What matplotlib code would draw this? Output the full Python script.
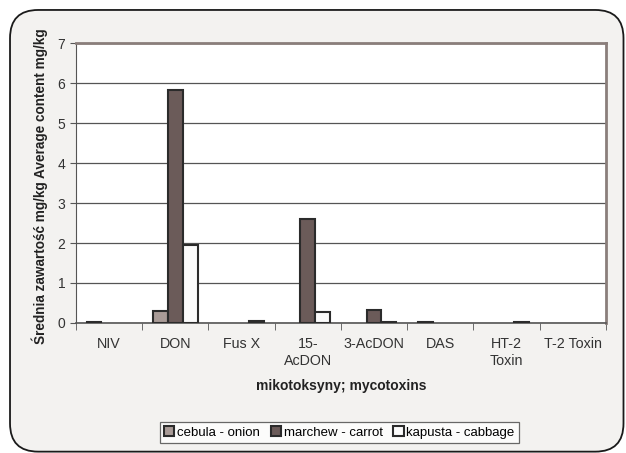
import matplotlib.pyplot as plt
import numpy as np
from matplotlib.patches import FancyBboxPatch

plt.rcParams['font.family'] = ['Liberation Sans', 'DejaVu Sans']

categories = ["NIV", "DON", "Fus X", "15-\nAcDON", "3-AcDON", "DAS", "HT-2\nToxin", "T-2 Toxin"]
onion = [0.02, 0.30, 0.0, 0.0, 0.0, 0.02, 0.0, 0.0]
carrot = [0.0, 5.83, 0.0, 2.60, 0.32, 0.0, 0.0, 0.0]
cabbage = [0.0, 1.95, 0.05, 0.27, 0.03, 0.0, 0.03, 0.0]
series_names = ["cebula - onion", "marchew - carrot", "kapusta - cabbage"]
series_colors = ["#a99b97", "#6b5b59", "#fbfbfb"]

fig = plt.figure(figsize=(6.26, 4.53), dpi=100)
fig.patch.set_facecolor("white")
bg = FancyBboxPatch((0.016, 0.003), 0.98, 0.975, boxstyle="round,pad=0,rounding_size=0.045",
                    transform=fig.transFigure, facecolor="#f3f2f0", edgecolor="#1a1a1a",
                    linewidth=1.3, mutation_aspect=626/453, zorder=-5)
fig.add_artist(bg)

ax = fig.add_axes([0.121, 0.287, 0.847, 0.618])
ax.set_facecolor("white")

x = np.arange(len(categories))
w = 0.225
for i, (vals, c, n) in enumerate(zip([onion, carrot, cabbage], series_colors, series_names)):
    v = np.array(vals, dtype=float)
    v[v == 0] = np.nan
    ax.bar(x + (i - 1) * w, v, width=w, color=c, edgecolor="#2b2b2b", linewidth=1.5, label=n, zorder=3)

ax.set_xlim(-0.5, len(categories) - 0.5)
ax.set_ylim(0, 7)
ax.set_yticks(range(0, 8))
ax.yaxis.grid(True, color="#555555", linewidth=0.9, zorder=0)
ax.set_axisbelow(True)

ax.set_xticks(x)
ax.set_xticklabels(categories, fontsize=10.3, color="#333333", linespacing=1.25)
ax.tick_params(axis='x', length=0, pad=10)
ax.set_xticks(np.arange(-0.5, len(categories), 1), minor=True)
ax.tick_params(axis='x', which='minor', length=5, direction='out', color="#555555")
ax.tick_params(axis='y', length=4, direction='out', labelsize=10, labelcolor="#333333", color="#555555")

for s in ['top', 'right']:
    ax.spines[s].set_color("#8a7e7b")
    ax.spines[s].set_linewidth(2)
ax.spines['left'].set_color("#555555")
ax.spines['bottom'].set_color("#555555")
ax.spines['bottom'].set_linewidth(1.2)

ax.set_xlabel("mikotoksyny; mycotoxins", fontsize=10, fontweight='bold', labelpad=8, color="#222222")
ax.set_ylabel("Średnia zawartość mg/kg Average content mg/kg", fontsize=9.8, fontweight='bold',
              color="#222222")
ax.yaxis.set_label_coords(-0.053, 0.49)

leg = fig.legend(loc='center', bbox_to_anchor=(0.542, 0.045), ncol=3, fontsize=9.5, frameon=True,
                 fancybox=False, edgecolor="#444444", handlelength=0.8, handleheight=0.8,
                 handletextpad=0.2, columnspacing=0.8, borderpad=0.3)
leg.get_frame().set_linewidth(0.9)

fig.savefig("out.png", dpi=100, facecolor=fig.get_facecolor())
